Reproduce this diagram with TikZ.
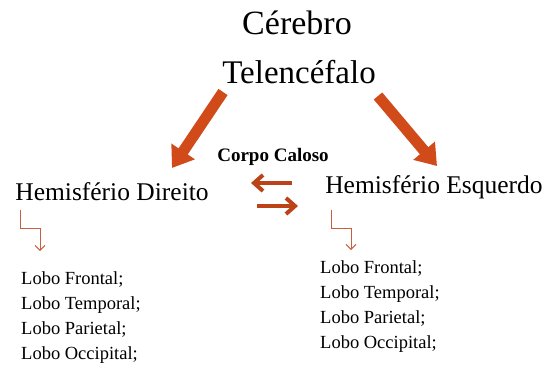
\documentclass[tikz,border=0pt]{standalone}
\usepackage{fontspec}
\setmainfont{Liberation Serif}
\usepackage{tikz}
\usetikzlibrary{
  arrows.meta,
  positioning,
}
\definecolor{brasa}{RGB}{208, 74, 26}
\definecolor{telha}{RGB}{200, 96, 64}
\tikzstyle{bigarrow} = [
  -{Triangle[length=20pt,width=27pt]},
  line width=11pt,
  brasa,
]
\tikzstyle{calosoarrow} = [
  -{Straight Barb[length=9pt,width=16pt,line width=4pt]},
  line width=4pt,
  brasa!90!black,
]
\tikzstyle{elbow} = [
  -{Straight Barb[length=5pt,width=10pt]},
  line width=0.9pt,
  telha,
]
\tikzstyle{lobos} = [
  align=left,
  anchor=base west,
  font=\fontsize{18.5}{24.7}\selectfont,
  inner sep=0pt,
]
\begin{document}
\begin{tikzpicture}[x=1pt,y=-1pt]
			\useasboundingbox (0,0) rectangle (544,370);

			\node[font=\fontsize{34}{40}\selectfont] (cerebro) at (297,23) {Cérebro};
			\node[font=\fontsize{33}{40}\selectfont] (telen) at (299,72) {Telencéfalo};

			\node[font=\fontsize{25.5}{30}\selectfont] (hdir) at (112,192) {Hemisfério Direito};
			\node[font=\fontsize{25.5}{30}\selectfont] (hesq) at (434,187) {Hemisfério Esquerdo};
			\node[font=\bfseries\fontsize{19}{23}\selectfont] (caloso) at (273,157) {Corpo Caloso};

			% setas grandes
			\coordinate (t1) at (223,92);
			\coordinate (t2) at (378,96);
			\coordinate (d1) at (172,168);
			\coordinate (e1) at (437,166);
			\draw[bigarrow] (t1) -- (d1);
			\draw[bigarrow] (t2) -- (e1);

			% corpo caloso
			\coordinate (c1) at (292,183);
			\coordinate (c2) at (251,183);
			\coordinate (c3) at (257,206);
			\coordinate (c4) at (298,206);
			\draw[calosoarrow] (c1) -- (c2);
			\draw[calosoarrow] (c3) -- (c4);

			% lobos (ancorados na ultima linha)
			\node[lobos] (ldir) at (21,359) {Lobo Frontal;\\Lobo Temporal;\\Lobo Parietal;\\Lobo Occipital;};
			\node[lobos] (lesq) at (320,348) {Lobo Frontal;\\Lobo Temporal;\\Lobo Parietal;\\Lobo Occipital;};

			\coordinate (a1) at (20,210);
			\coordinate (a2) at (40,251);
			\coordinate (b1) at (331,210);
			\coordinate (b2) at (351,250);
			\draw[elbow] (a1) -- (20,228) -| (a2);
			\draw[elbow] (b1) -- (331,228) -| (b2);
		\end{tikzpicture}
\end{document}
